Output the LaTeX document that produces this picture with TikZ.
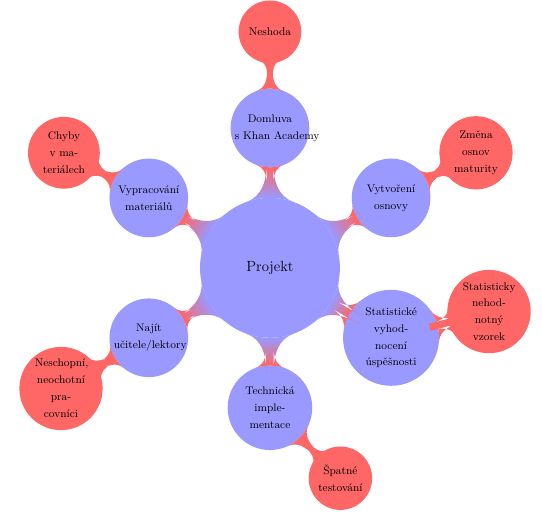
\documentclass[tikz,border=0pt]{standalone}
\usetikzlibrary{mindmap}
\linespread{1.25}
\begin{document}
\begin{tikzpicture}[mindmap, concept color=blue!40, text=black,
    level 1/.append style={level distance=4cm},
    level 2/.append style={level distance=2.75cm},
    level 2 concept/.append style={font=\small},
    sub/.style={concept color=red!60},
    main/.style={concept, fill=blue!40, draw=none}]
  \useasboundingbox (-7.72,-7.06) rectangle (7.78,7.66);
  \node [concept, draw=none] (projekt) {Projekt}
    child [sub, grow=90] {node [main] (domluva) {Domluva\\ s~Khan~Academy}
      child [grow=90] {node [concept] (neshoda) {Neshoda}}}
    child [sub, grow=30] {node [main] (osnova) {Vytvoření\\ osnovy}
      child [grow=28] {node [concept] (maturita) {Změna\\ osnov\\ maturity}}}
    child [sub, grow=-30] {node [main] (statistika) {Statistické\\ vyhod-\\nocení\\ úspěšnosti}
      child [grow=15, level distance=2.9cm] {node [concept] (vzorek) {Statisticky\\ nehod-\\notný\\ vzorek}}}
    child [sub, grow=-90] {node [main] (technika) {Technická\\ imple-\\mentace}
      child [grow=-45, level distance=2.85cm] {node [concept] (testy) {Špatné\\ testování}}}
    child [sub, grow=-150] {node [main] (lektori) {Najít\\ učitele/lektory}
      child [grow=-150, level distance=2.9cm] {node [concept] (pracovnici) {Neschopní,\\ neochotní\\ pra-\\covníci}}}
    child [sub, grow=150] {node [main] (materialy) {Vypracování\\ materiálů}
      child [grow=152] {node [concept] (chyby) {Chyby\\ v~ma-\\teriálech}}};
\end{tikzpicture}
\end{document}
